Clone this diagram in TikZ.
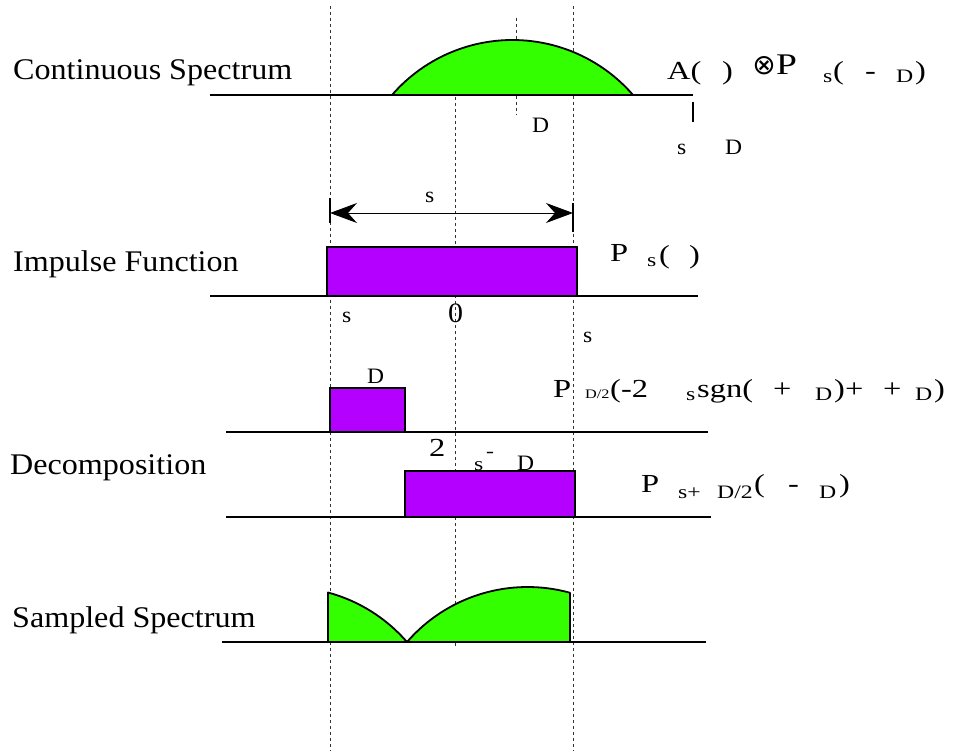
\documentclass[tikz,border=0pt]{standalone}
\usepackage{fontspec}
\setmainfont{Liberation Serif}
\newfontfamily\lblf{Liberation Serif}[FakeStretch=1.07]
\newfontfamily\frmf{Liberation Serif}[FakeStretch=1.25]
\newfontfamily\symf{DejaVu Sans}
\usetikzlibrary{arrows.meta}
\definecolor{specgreen}{RGB}{51,255,0}
\definecolor{boxpurple}{RGB}{179,0,255}
\tikzset{
  lbl/.style={anchor=base west, inner sep=0pt, font=\lblf\fontsize{30}{36}\selectfont},
  frm/.style={anchor=base west, inner sep=0pt, font=\frmf\fontsize{26}{30}\selectfont},
  bigfrm/.style={anchor=base west, inner sep=0pt, font=\frmf\fontsize{30}{34}\selectfont},
  sub/.style={anchor=base west, inner sep=0pt, font=\frmf\fontsize{19}{23}\selectfont},
  tinysub/.style={anchor=base west, inner sep=0pt, font=\frmf\fontsize{13}{16}\selectfont},
  ann/.style={anchor=base west, inner sep=0pt, font=\lblf\fontsize{22}{26}\selectfont},
  axisline/.style={line width=1.6pt},
  guide/.style={line width=0.8pt, dash pattern=on 3pt off 3pt, black!80},
  greenfill/.style={fill=specgreen, draw=black, line width=1.8pt, line join=round},
  boxfill/.style={fill=boxpurple, draw=black, line width=1.5pt},
}
\begin{document}
\begin{tikzpicture}[x=1pt,y=1pt]
\path[use as bounding box] (0,0) rectangle (956,-751);
% dashed guides
\draw[guide] (330,-6) -- (330,-751);
\draw[guide] (573,-6) -- (573,-751);
\draw[guide] (455,-97) -- (455,-648);
\draw[guide] (516,-18) -- (516,-115);
% continuous spectrum
\filldraw[greenfill] (392,-95) arc[start angle=139.07, end angle=40.93, radius=159.5pt] -- cycle;
\draw[axisline] (210,-95) -- (693,-95);
\draw[line width=1.5pt] (693,-102) -- (693,-122);
% impulse function
\filldraw[boxfill] (327,-247) rectangle (577,-296);
\draw[axisline] (210,-296) -- (698,-296);
\coordinate (al) at (330,-213);
\coordinate (ar) at (573,-213);
\draw[line width=1.6pt] (330,-198) -- (330,-223);
\draw[line width=1.6pt] (573,-203) -- (573,-232);
\draw[line width=0.9pt, {Stealth[length=27pt,width=20pt,inset=9pt]}-{Stealth[length=27pt,width=20pt,inset=9pt]}] (al) -- (ar);
% decomposition
\filldraw[boxfill] (330,-388) rectangle (405,-432);
\draw[axisline] (226,-432) -- (708,-432);
\filldraw[boxfill] (405,-471) rectangle (575,-517);
\draw[axisline] (226,-517) -- (711,-517);
% sampled spectrum
\filldraw[greenfill] (328,-642) -- (328,-592.5) arc[start angle=74.92, end angle=40.93, radius=159.5pt] -- cycle;
\filldraw[greenfill] (407,-642) arc[start angle=139.07, end angle=74.55, radius=159.5pt] -- (570,-642) -- cycle;
\draw[axisline] (222,-642) -- (706,-642);
% row labels
\node[lbl] (tcont) at (13,-80) {Continuous Spectrum};
\node[lbl] (timp) at (13,-272) {Impulse Function};
\node[lbl] (tdec) at (10,-474) {Decomposition};
\node[lbl] (tsam) at (12,-627) {Sampled Spectrum};
% annotations row 1
\node[ann] (dD1) at (532,-133) {D};
\node[ann] (ds1) at (677,-155) {s};
\node[ann] (dD2) at (725,-155) {D};
% formula row 1
\node[frm] (f1a) at (667,-80) {A(};
\node[frm] (f1b) at (722,-80) {)};
\node[inner sep=0pt, font=\symf\fontsize{28}{32}\selectfont] (f1c) at (764,-66) {⊗};
\node[bigfrm] (f1d) at (776,-75) {P};
\node[sub] (f1e) at (823,-83) {s};
\node[frm] (f1f) at (833,-80) {(};
\node[frm] (f1g) at (865,-80) {-};
\node[sub] (f1h) at (896,-83) {D};
\node[frm] (f1i) at (915,-80) {)};
% impulse annotations
\node[ann] (as) at (425,-203) {s};
\node[ann] (bs1) at (342,-323) {s};
\node[lbl, font=\lblf\fontsize{28}{32}\selectfont] (bz) at (448,-323) {0};
\node[ann] (bs2) at (583,-343) {s};
\node[frm] (f2a) at (610,-262) {P};
\node[sub] (f2b) at (647,-267) {s};
\node[frm] (f2c) at (659,-264) {(};
\node[frm] (f2d) at (689,-264) {)};
% decomposition annotations
\node[ann] (cD) at (367,-384) {D};
\node[frm] (c2) at (429,-456) {2};
\node[sub] (cs) at (474,-470) {s};
\node[sub] (cm) at (486,-457) {-};
\node[ann] (cD2) at (517,-470) {D};
% formula decomposition 1
\node[frm] (f3a) at (553,-397) {P};
\node[tinysub] (f3b) at (585,-399) {D/2};
\node[frm] (f3c) at (610,-397) {(-2};
\node[sub] (f3d) at (686,-400) {s};
\node[frm] (f3e) at (697,-397) {sgn(};
\node[frm] (f3f) at (773,-397) {+};
\node[sub] (f3g) at (815,-400) {D};
\node[frm] (f3h) at (834,-397) {)+};
\node[frm] (f3i) at (883,-397) {+};
\node[sub] (f3j) at (915,-400) {D};
\node[frm] (f3k) at (934,-397) {)};
% formula decomposition 2
\node[frm] (f4a) at (641,-492) {P};
\node[sub] (f4b) at (678,-498) {s+};
\node[sub] (f4c) at (717,-498) {D/2};
\node[frm] (f4d) at (754,-492) {(};
\node[frm] (f4e) at (788,-492) {-};
\node[sub] (f4f) at (819,-498) {D};
\node[frm] (f4g) at (839,-492) {)};
\end{tikzpicture}
\end{document}
